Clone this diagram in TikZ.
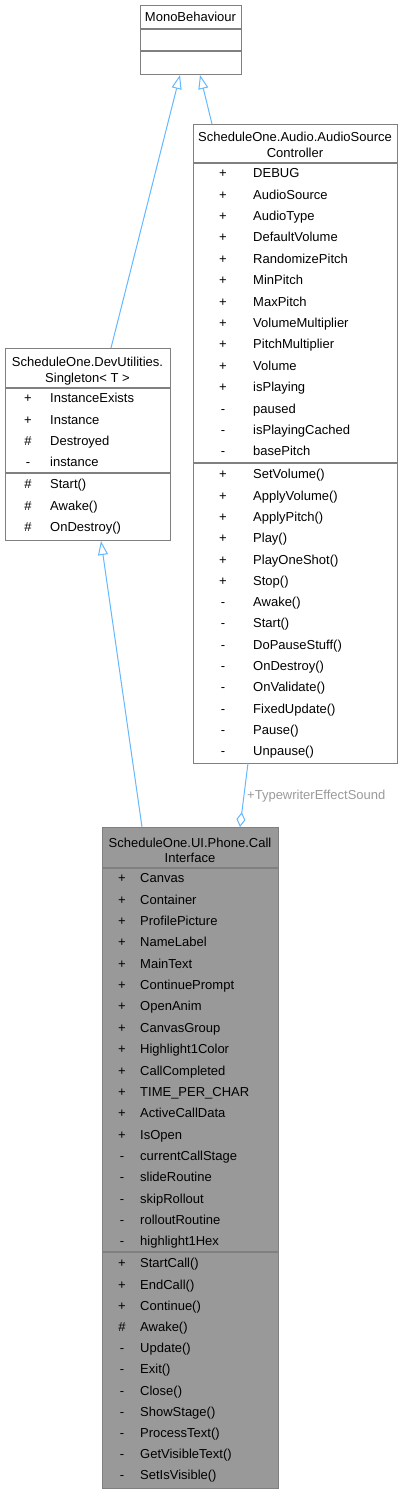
\documentclass[tikz,border=0pt]{standalone}
\usepackage{fontspec}
\setmainfont{Liberation Sans}
\usetikzlibrary{arrows.meta}
\definecolor{bordc}{HTML}{808080}
\definecolor{edgec}{HTML}{63B8FF}
\definecolor{hlfill}{HTML}{999999}
\definecolor{lblc}{HTML}{9A9A9A}
\begin{document}
\begin{tikzpicture}[x=1pt,y=-1pt,
 box/.style={draw=bordc,line width=1.2pt,anchor=north west,inner sep=0pt,fill=white},
 sep/.style={draw=bordc,line width=1.2pt},
 txt/.style={font=\fontsize{13}{15}\selectfont,inner sep=0pt,anchor=mid west,yshift=-2.2pt},
 ttl/.style={font=\fontsize{13}{15}\selectfont,inner sep=0pt,anchor=mid,yshift=-2.2pt},
 vis/.style={font=\fontsize{13}{15}\selectfont,inner sep=0pt,anchor=mid,yshift=-2.2pt},
 inh/.style={draw=edgec,line width=1pt,-{Triangle[open,length=14pt,width=10pt,fill=white]}},
 agg/.style={draw=edgec,line width=1pt,-{Diamond[open,length=15pt,width=9pt,fill=white]}}]
\useasboundingbox (0,0) rectangle (403,1495);

% MonoBehaviour
\node[box,minimum width=101pt,minimum height=69pt] (mono) at (140,5) {};
\draw[sep] (140,29) -- (241,29);
\draw[sep] (140,51) -- (241,51);
\node[ttl] (monot) at (190.5,17) {MonoBehaviour};

% Singleton
\node[box,minimum width=165pt,minimum height=192pt] (sing) at (5,348) {};
\draw[sep] (5,388) -- (170,388);
\draw[sep] (5,473) -- (170,473);
\node[ttl] (singt1) at (87.5,362) {ScheduleOne.DevUtilities.};
\node[ttl] (singt2) at (87.5,378) {Singleton< T >};
\foreach \s/\n [count=\i] in {+/InstanceExists,+/Instance,\#/Destroyed,-/instance}{
  \node[vis] (sa\i v) at (28,{398+(\i-1)*21.3}) {\s};
  \node[txt] (sa\i) at (50,{398+(\i-1)*21.3}) {\n};
}
\foreach \s/\n [count=\i] in {\#/Start(),\#/Awake(),\#/OnDestroy()}{
  \node[vis] (sm\i v) at (28,{484+(\i-1)*21.2}) {\s};
  \node[txt] (sm\i) at (50,{484+(\i-1)*21.2}) {\n};
}

% AudioSourceController
\node[box,minimum width=204pt,minimum height=639pt] (aud) at (193,124) {};
\draw[sep] (193,163) -- (397,163);
\draw[sep] (193,463) -- (397,463);
\node[ttl] (audt1) at (295,137) {ScheduleOne.Audio.AudioSource};
\node[ttl] (audt2) at (295,153) {Controller};
\foreach \s/\n [count=\i] in {+/DEBUG,+/AudioSource,+/AudioType,+/DefaultVolume,+/RandomizePitch,+/MinPitch,+/MaxPitch,+/VolumeMultiplier,+/PitchMultiplier,+/Volume,+/isPlaying,-/paused,-/isPlayingCached,-/basePitch}{
  \node[vis] (aa\i v) at (223,{173+(\i-1)*21.38}) {\s};
  \node[txt] (aa\i) at (253,{173+(\i-1)*21.38}) {\n};
}
\foreach \s/\n [count=\i] in {+/SetVolume(),+/ApplyVolume(),+/ApplyPitch(),+/Play(),+/PlayOneShot(),+/Stop(),-/Awake(),-/Start(),-/DoPauseStuff(),-/OnDestroy(),-/OnValidate(),-/FixedUpdate(),-/Pause(),-/Unpause()}{
  \node[vis] (am\i v) at (223,{474+(\i-1)*21.3}) {\s};
  \node[txt] (am\i) at (253,{474+(\i-1)*21.3}) {\n};
}

% CallInterface
\node[box,fill=hlfill,minimum width=176pt,minimum height=661pt] (ci) at (102,827) {};
\draw[sep] (102,868) -- (278,868);
\draw[sep] (102,1252) -- (278,1252);
\node[ttl] (cit1) at (190,843) {ScheduleOne.UI.Phone.Call};
\node[ttl] (cit2) at (190,858) {Interface};
\foreach \s/\n [count=\i] in {+/Canvas,+/Container,+/ProfilePicture,+/NameLabel,+/MainText,+/ContinuePrompt,+/OpenAnim,+/CanvasGroup,+/Highlight1Color,+/CallCompleted,+/TIME\_PER\_CHAR,+/ActiveCallData,+/IsOpen,-/currentCallStage,-/slideRoutine,-/skipRollout,-/rolloutRoutine,-/highlight1Hex}{
  \node[vis] (ca\i v) at (122,{878+(\i-1)*21.35}) {\s};
  \node[txt] (ca\i) at (140,{878+(\i-1)*21.35}) {\n};
}
\foreach \s/\n [count=\i] in {+/StartCall(),+/EndCall(),+/Continue(),\#/Awake(),-/Update(),-/Exit(),-/Close(),-/ShowStage(),-/ProcessText(),-/GetVisibleText(),-/SetIsVisible()}{
  \node[vis] (cm\i v) at (122,{1263+(\i-1)*21.2}) {\s};
  \node[txt] (cm\i) at (140,{1263+(\i-1)*21.2}) {\n};
}

% connector end points on the boxes
\coordinate (m1) at (180,75);
\coordinate (m2) at (200,75);
\coordinate (s1) at (111,348);
\coordinate (a1) at (212,124);
\coordinate (s2) at (101,541);
\coordinate (c1) at (142,827);
\coordinate (a2) at (248,763);
\coordinate (c2) at (240,827);

\draw[inh] (s1) -- (m1);
\draw[inh] (a1) -- (m2);
\draw[inh] (c1) -- (s2);
\draw[agg] (a2) -- (c2);
\node[font=\fontsize{13}{15}\selectfont,text=lblc,inner sep=0pt,anchor=mid west,yshift=-2.2pt] (lbl) at (247,795) {+TypewriterEffectSound};
\end{tikzpicture}
\end{document}
